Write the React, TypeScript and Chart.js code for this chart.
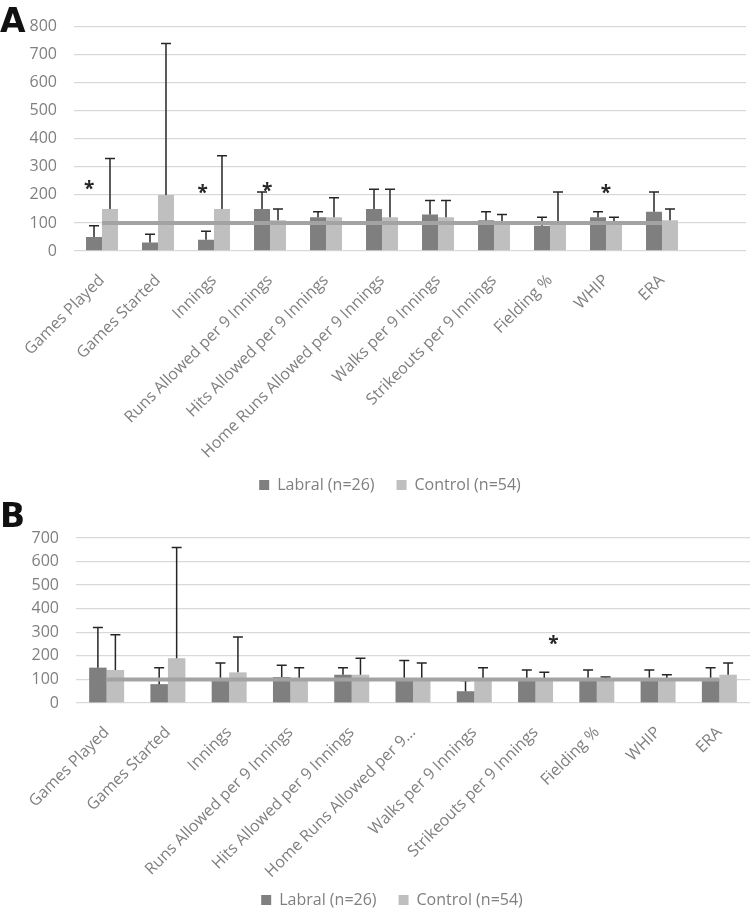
import React, { useEffect, useRef } from "react";
import { Chart, registerables } from "chart.js";

Chart.register(...registerables);

// ---------- Panel A data ----------
const categoriesA = [
  "Games Played",
  "Games Started",
  "Innings",
  "Runs Allowed per 9 Innings",
  "Hits Allowed per 9 Innings",
  "Home Runs Allowed per 9 Innings",
  "Walks per 9 Innings",
  "Strikeouts per 9 Innings",
  "Fielding %",
  "WHIP",
  "ERA",
  "",
];
const labralA = [50, 30, 40, 150, 120, 150, 130, 110, 90, 120, 140, null];
const labralErrTopA = [90, 60, 70, 210, 140, 220, 180, 140, 120, 140, 210, null];
const controlA = [150, 200, 150, 110, 120, 120, 120, 100, 100, 100, 110, null];
const controlErrTopA = [330, 740, 340, 150, 190, 220, 180, 130, 210, 120, 150, null];
const referenceA = [100, 100, 100, 100, 100, 100, 100, 100, 100, 100, 100, null];
const asterisksA = [
  { index: 0, value: 244, shift: -0.23 },
  { index: 2, value: 228, shift: -0.2 },
  { index: 3, value: 236, shift: -0.05 },
  { index: 9, value: 228, shift: 0 },
];
const yMaxA = 800;

// ---------- Panel B data ----------
const categoriesB = [
  "Games Played",
  "Games Started",
  "Innings",
  "Runs Allowed per 9 Innings",
  "Hits Allowed per 9 Innings",
  "Home Runs Allowed per 9…",
  "Walks per 9 Innings",
  "Strikeouts per 9 Innings",
  "Fielding %",
  "WHIP",
  "ERA",
];
const labralB = [150, 80, 100, 110, 120, 100, 50, 100, 100, 100, 100];
const labralErrTopB = [320, 150, 170, 160, 150, 180, 95, 140, 140, 140, 150];
const controlB = [140, 190, 130, 105, 120, 100, 100, 100, 100, 100, 120];
const controlErrTopB = [290, 660, 280, 150, 190, 170, 150, 130, 110, 120, 170];
const referenceB = [100, 100, 100, 100, 100, 100, 100, 100, 100, 100, 100];
const asterisksB = [{ index: 7, value: 275, shift: 0.29 }];
const yMaxB = 700;

const seriesNames = ["Labral (n=26)", "Control (n=54)"];

const FONT = "'Open Sans', sans-serif";
const TICK_COLOR = "#7f7f7f";
const DARK = "#7f7f7f";
const LIGHT = "#bfbfbf";

const errorBarPlugin = {
  id: "errorBars",
  afterDatasetDraw(chart: any, args: any) {
    const ds = chart.data.datasets[args.index];
    if (!ds.errTop) return;
    const yScale = chart.scales.y;
    const ctx = chart.ctx;
    ctx.save();
    ctx.strokeStyle = "#262626";
    ctx.lineWidth = 1.5;
    args.meta.data.forEach((el: any, i: number) => {
      const top = ds.errTop[i];
      if (top == null || ds.data[i] == null) return;
      const x = el.x;
      const yb = el.y;
      const yt = yScale.getPixelForValue(top);
      ctx.beginPath();
      ctx.moveTo(x, yb);
      ctx.lineTo(x, yt);
      ctx.moveTo(x - 5, yt);
      ctx.lineTo(x + 5, yt);
      ctx.stroke();
    });
    ctx.restore();
  },
};

const asteriskPlugin = {
  id: "asterisks",
  afterDatasetsDraw(chart: any, _args: any, opts: any) {
    const marks = opts && opts.marks;
    if (!marks) return;
    const xs = chart.scales.x;
    const ys = chart.scales.y;
    const n = chart.data.labels.length;
    const catW = xs.width / n;
    const ctx = chart.ctx;
    ctx.save();
    ctx.fillStyle = "#262626";
    ctx.font = `bold 19px ${FONT}`;
    ctx.textAlign = "center";
    ctx.textBaseline = "alphabetic";
    marks.forEach((m: any) => {
      const x = xs.getPixelForValue(m.index) + m.shift * catW;
      const y = ys.getPixelForValue(m.value);
      ctx.fillText("*", x, y + 12);
    });
    ctx.restore();
  },
};

type PanelProps = {
  labels: string[];
  labral: (number | null)[];
  labralErr: (number | null)[];
  control: (number | null)[];
  controlErr: (number | null)[];
  reference: (number | null)[];
  asterisks: { index: number; value: number; shift: number }[];
  yMax: number;
  height: number;
  padTop: number;
  padLeft: number;
  padRight: number;
  padBottom: number;
  yWidth: number;
  xHeight: number;
};

function Panel(p: PanelProps) {
  const ref = useRef<HTMLCanvasElement>(null);
  useEffect(() => {
    if (!ref.current) return;
    const chart = new Chart(ref.current, {
      type: "bar",
      data: {
        labels: p.labels,
        datasets: [
          {
            type: "bar",
            label: seriesNames[0],
            data: p.labral,
            backgroundColor: DARK,
            borderWidth: 0,
            order: 1,
            categoryPercentage: 0.571,
            barPercentage: 1,
            errTop: p.labralErr,
          } as any,
          {
            type: "bar",
            label: seriesNames[1],
            data: p.control,
            backgroundColor: LIGHT,
            borderWidth: 0,
            order: 1,
            categoryPercentage: 0.571,
            barPercentage: 1,
            errTop: p.controlErr,
          } as any,
          {
            type: "line",
            label: "reference",
            data: p.reference,
            borderColor: "#a3a3a3",
            backgroundColor: "#a3a3a3",
            borderWidth: 4,
            pointRadius: 0,
            order: 0,
          } as any,
        ],
      },
      options: {
        animation: false,
        responsive: true,
        maintainAspectRatio: false,
        layout: {
          padding: { top: p.padTop, right: p.padRight, bottom: p.padBottom, left: p.padLeft },
        },
        plugins: {
          legend: {
            position: "bottom",
            labels: {
              boxWidth: 10,
              boxHeight: 10,
              padding: 22,
              color: TICK_COLOR,
              font: { family: FONT, size: 16 },
              filter: (item: any) => item.datasetIndex < 2,
            },
          },
          tooltip: { enabled: false },
          asterisks: { marks: p.asterisks },
        } as any,
        scales: {
          x: {
            grid: { display: false },
            border: { display: false },
            ticks: {
              autoSkip: false,
              maxRotation: 45,
              minRotation: 45,
              padding: 12,
              color: TICK_COLOR,
              font: { family: FONT, size: 16 },
            },
            afterFit: (s: any) => {
              s.height = p.xHeight;
              s.paddingLeft = 0;
              s.paddingRight = 0;
              s._computeLabelArea = () => undefined;
            },
          },
          y: {
            min: 0,
            max: p.yMax,
            border: { display: false },
            grid: { color: "#d9d9d9", lineWidth: 1.3, drawTicks: false },
            ticks: {
              stepSize: 100,
              padding: 17,
              color: TICK_COLOR,
              font: { family: FONT, size: 16 },
            },
            afterFit: (s: any) => {
              s.width = p.yWidth;
              s._computeLabelArea = () => undefined;
            },
          },
        },
      },
      plugins: [errorBarPlugin, asteriskPlugin],
    });
    return () => chart.destroy();
  }, []);
  return (
    <div style={{ position: "relative", width: 750, height: p.height }}>
      <canvas ref={ref} />
    </div>
  );
}

const letterStyle: React.CSSProperties = {
  position: "absolute",
  left: 0,
  fontFamily: "'DejaVu Sans', sans-serif",
  fontWeight: "bold",
  fontSize: 33,
  lineHeight: 1,
  color: "#111",
};

export default function App() {
  return (
    <div
      style={{
        position: "fixed",
        left: 0,
        top: 0,
        width: 750,
        height: 914,
        overflow: "hidden",
        background: "#fff",
      }}
    >
      <div style={{ position: "absolute", left: 0, top: 0 }}>
        <Panel
          labels={categoriesA}
          labral={labralA}
          labralErr={labralErrTopA}
          control={controlA}
          controlErr={controlErrTopA}
          reference={referenceA}
          asterisks={asterisksA}
          yMax={yMaxA}
          height={505}
          padTop={26}
          padLeft={34}
          padRight={4}
          padBottom={2}
          yWidth={40}
          xHeight={204}
        />
      </div>
      <div style={{ position: "absolute", left: 0, top: 505 }}>
        <Panel
          labels={categoriesB}
          labral={labralB}
          labralErr={labralErrTopB}
          control={controlB}
          controlErr={controlErrTopB}
          reference={referenceB}
          asterisks={asterisksB}
          yMax={yMaxB}
          height={425}
          padTop={33}
          padLeft={34}
          padRight={0}
          padBottom={12}
          yWidth={42}
          xHeight={167}
        />
      </div>
      <div style={{ ...letterStyle, top: 4 }}>A</div>
      <div style={{ ...letterStyle, top: 499 }}>B</div>
    </div>
  );
}
